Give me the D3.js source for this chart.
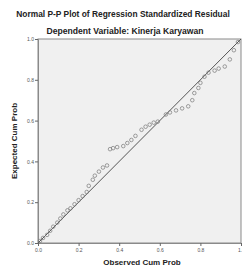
<!DOCTYPE html>
<html>
<head>
<script src="https://d3js.org/d3.v7.min.js"></script>
<style>
body { margin: 0; background: white; }
text { font-family: Arial, "Liberation Sans", sans-serif; fill: #222; }
.title { font-weight: bold; }
.tick text { font-size: 5px; fill: #555; }
</style>
</head>
<body>
<svg width="242" height="267"></svg>
<script>
// observed cum prob / expected cum prob
var observed = [0.01, 0.025, 0.045, 0.06, 0.075, 0.095, 0.11, 0.125, 0.145, 0.16,
  0.18, 0.20, 0.22, 0.24, 0.25, 0.27, 0.28, 0.30, 0.32, 0.34,
  0.355, 0.37, 0.39, 0.42, 0.44, 0.46, 0.48, 0.51, 0.53, 0.55,
  0.57, 0.59, 0.63, 0.65, 0.68, 0.71, 0.74, 0.76, 0.77, 0.79,
  0.80, 0.82, 0.84, 0.87, 0.89, 0.92, 0.945, 0.965, 0.985];
var expected = [0.01, 0.025, 0.04, 0.06, 0.08, 0.10, 0.12, 0.14, 0.16, 0.17,
  0.19, 0.21, 0.23, 0.25, 0.28, 0.31, 0.33, 0.35, 0.37, 0.38,
  0.46, 0.465, 0.47, 0.475, 0.49, 0.505, 0.525, 0.555, 0.57, 0.58,
  0.59, 0.595, 0.63, 0.64, 0.65, 0.66, 0.67, 0.70, 0.735, 0.76,
  0.785, 0.815, 0.835, 0.845, 0.855, 0.865, 0.90, 0.945, 0.985];
var ticks = [0.0, 0.2, 0.4, 0.6, 0.8, 1.0];

var svg = d3.select("svg");
var pLeft = 38, pRight = 241, pTop = 39, pBottom = 243;

var x = d3.scaleLinear().domain([0, 1]).range([pLeft, pRight]);
var y = d3.scaleLinear().domain([0, 1]).range([pBottom, pTop]);

// titles
svg.append("text").attr("class", "title")
  .attr("x", 123).attr("y", 17).attr("text-anchor", "middle")
  .style("font-size", "8.4px")
  .text("Normal P-P Plot of Regression Standardized Residual");
svg.append("text").attr("class", "title")
  .attr("x", 125).attr("y", 34).attr("text-anchor", "middle")
  .style("font-size", "8.6px")
  .text("Dependent Variable: Kinerja Karyawan");

// plot area
svg.append("rect")
  .attr("x", pLeft).attr("y", pTop)
  .attr("width", pRight - pLeft).attr("height", pBottom - pTop)
  .style("fill", "#f0f0f0")
  .style("stroke", "#8a8a8a")
  .style("stroke-width", 1);

// axes
var yAxis = svg.append("g")
  .attr("transform", "translate(" + pLeft + ",0)")
  .call(d3.axisLeft(y).tickValues(ticks).tickSize(3).tickFormat(d3.format(".1f")));
var xAxis = svg.append("g")
  .attr("transform", "translate(0," + pBottom + ")")
  .call(d3.axisBottom(x).tickValues(ticks).tickSize(3).tickFormat(d3.format(".1f")));
[xAxis, yAxis].forEach(function(a) {
  a.select(".domain").style("stroke", "#8a8a8a");
  a.selectAll(".tick line").style("stroke", "#666");
});
yAxis.selectAll(".tick text").attr("x", -4);
xAxis.selectAll(".tick text").attr("y", 5);

// axis labels
svg.append("text").attr("class", "title")
  .attr("transform", "translate(17," + ((pTop + pBottom) / 2) + ") rotate(-90)")
  .attr("text-anchor", "middle")
  .style("font-size", "8px")
  .text("Expected Cum Prob");
svg.append("text").attr("class", "title")
  .attr("x", 142).attr("y", 265).attr("text-anchor", "middle")
  .style("font-size", "8px")
  .text("Observed Cum Prob");

// reference diagonal
svg.append("line")
  .attr("x1", x(0)).attr("y1", y(0))
  .attr("x2", x(1)).attr("y2", y(1))
  .style("stroke", "#555").style("stroke-width", 1);

// points
svg.selectAll("circle.pt").data(observed).enter().append("circle")
  .attr("class", "pt")
  .attr("cx", function(d) { return x(d); })
  .attr("cy", function(d, i) { return y(expected[i]); })
  .attr("r", 1.8)
  .style("fill", "none")
  .style("stroke", "#777")
  .style("stroke-width", 0.7);
</script>
</body>
</html>
